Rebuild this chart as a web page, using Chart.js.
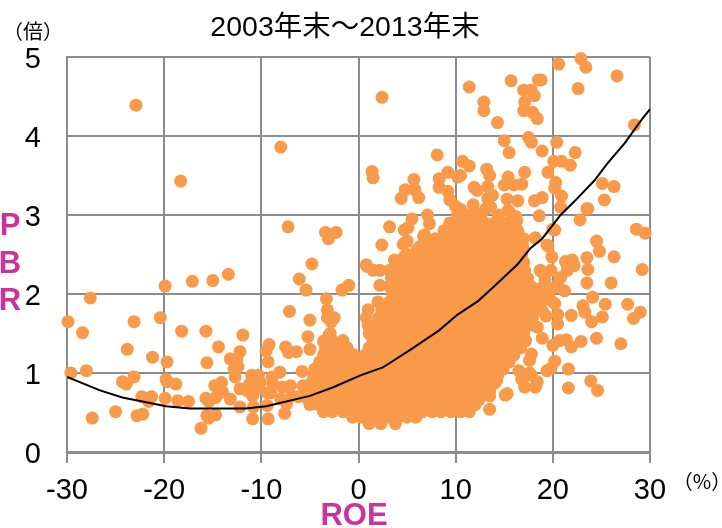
<!DOCTYPE html>
<html lang="ja">
<head>
  <meta charset="UTF-8">
  <title>ROE PBR</title>
  <script src="https://cdn.jsdelivr.net/npm/chart.js"></script>
  <style>
    html, body { margin: 0; padding: 0; background: #fff; }
    canvas { display: block; }
  </style>
</head>
<body>
  <canvas id="chart" width="722" height="528"></canvas>

  <script>
    const titleText = '2003年末～2013年末';
    const xTicks = [-30, -20, -10, 0, 10, 20, 30];
    const yTicks = [0, 1, 2, 3, 4, 5];

    // fitted curve
    const curveRoe = [-30, -26.6, -24.3, -19.8, -17.4, -11.6, -9.5, -5, -2.6, 0.2, 2.5, 5.4, 8.3, 10.2, 12.3, 14, 16.4, 17.7, 18.9, 20.8, 22.2, 24.3, 25.6, 27.4, 29.1, 30];
    const curvePbr = [0.95, 0.78, 0.69, 0.58, 0.55, 0.55, 0.58, 0.71, 0.82, 0.97, 1.07, 1.30, 1.54, 1.74, 1.91, 2.10, 2.38, 2.58, 2.70, 3.0, 3.17, 3.44, 3.65, 3.91, 4.2, 4.34];

    // loose points on the left side [ROE, PBR]
    const leftPoints = [
      [-22.9,4.39],[-8,3.86],[-18.3,3.43],[-7.25,2.85],[-3.4,2.78],[-2.3,2.78],[-3.1,2.7],[-4.8,2.38],
      [-29.9,1.65],[-28.4,1.51],[-27.6,1.95],[-29.6,1.0],[-28,1.03],[-27.4,0.43],[-25,0.51],[-23.1,1.65],
      [-23.8,1.3],[-24.3,0.89],[-23.9,0.86],[-23.1,0.95],[-22.8,0.46],[-22.2,0.48],[-22.3,0.7],[-21.3,0.7],
      [-21.6,0.64],[-21.2,1.2],[-20.4,1.7],[-19.9,2.1],[-17.1,2.16],[-15,2.17],[-13.4,2.25],[-19.7,1.14],
      [-19.8,0.92],[-19.7,0.89],[-18.8,0.86],[-19.9,0.68],[-18.6,0.65],[-17.5,0.64],[-18.2,1.53],[-15.7,1.53],
      [-14.4,1.33],[-15.6,1.13],[-11.9,1.48],[-12.2,1.27],[-13.2,1.18],[-12.5,1.18],[-12.4,1.08],[-12.8,1.05],
      [-12.7,0.95],[-15.7,0.68],[-15.4,0.64],[-14.8,0.84],[-14.1,0.88],[-14,0.76],[-14.7,0.69],[-13.2,0.67],
      [-15.6,0.46],[-15.4,0.43],[-14.7,0.47],[-16.2,0.3],[-12.2,0.8],[-12.2,0.57],[-10.9,0.42],[-9.3,0.42],
      [-9.2,1.36],[-9.5,1.28],[-9.3,1.14],[-7.5,1.33],[-7.2,1.26],[-6.4,1.27],[-7.1,1.78],[-6.1,2.19],
      [-5.4,2.05],[-3.3,1.94],[-1.7,2.05],[-1,2.11],[-3.2,1.8],[-3.2,1.7],[-2.5,1.7],[-2.8,1.65],
      [-5,1.67],[-5.2,1.46],[-5,1.3],[-3,1.49],[-3.6,1.4],[-5.8,1.02],[-7.6,0.49],
      [-11,0.97],[-10.3,0.97],[-11.2,0.86],[-10.1,0.88],[-11.5,0.78],[-10.9,0.71],[-9.4,0.75],[-8.9,0.95],
      [-8.1,1.01],[-8.8,0.86],[-9,0.75],[-10.5,0.79],[-7.8,0.82],[-7,0.84],[-6.9,0.71],[-7.4,0.61],
      [-9.4,0.59],[-10.8,0.57],[-8,0.67],[-5.7,0.84],[-6.2,0.7]
    ];

    // loose points on the right side and above the mass [ROE, PBR]
    const rightPoints = [
      [2.42,4.49],[20.6,4.91],[22.9,4.98],[23.4,4.87],[26.6,4.76],[22.6,4.6],[11.4,4.62],[15.7,4.7],
      [18.8,4.71],[18.5,4.71],[17,4.58],[17.75,4.58],[18.1,4.51],[17.1,4.43],[17,4.32],[17.9,4.3],
      [18.4,4.22],[12.9,4.43],[12.9,4.32],[14.3,4.17],[28.4,4.14],[15,3.94],[17.5,3.98],[17.8,3.92],
      [15.5,3.79],[18.9,3.81],[20.4,3.92],[22.3,3.79],[20.1,3.68],[20.9,3.68],[21.8,3.63],[19.5,3.54],
      [8.1,3.76],[1.4,3.55],[1.5,3.47],[10.7,3.68],[11.4,3.62],[13.2,3.58],[13.5,3.5],[17.1,3.54],
      [15.4,3.48],[9.2,3.54],[8.3,3.46],[8.3,3.35],[10.2,3.48],[10.5,3.5],[5.7,3.45],[4.8,3.32],
      [4.4,3.21],[5.8,3.32],[6.2,3.22],[9.2,3.3],[9.4,3.19],[10,3.11],[10.5,3.07],[11.9,3.35],
      [12.2,3.31],[13.3,3.36],[13.8,3.25],[13.3,3.21],[13.6,3.1],[13.1,3.08],[11.8,3.13],[11.9,3.04],
      [15,3.38],[16,3.38],[16.8,3.39],[15.3,3.2],[16.4,3.18],[18.1,3.18],[18.9,3.22],[20.3,3.41],
      [20.2,3.34],[20.9,3.24],[20.8,3.1],[18.6,2.99],[15.4,3.06],[16.2,2.98],[16.3,2.93],[25.1,3.4],
      [26.3,3.36],[25.3,3.19],[23.6,3.08],[23.5,3.08],[22.8,2.94],[20,2.82],[28.6,2.82],[29.5,2.77],
      [24.5,2.67],[24.8,2.54],[26.3,2.47],[23.5,2.46],[22,2.43],[21.3,2.41],[19.5,2.61],[19.9,2.47],
      [18.2,2.71],[3.2,2.85],[5.5,2.95],[4.7,2.81],[5.1,2.84],[2.4,2.62],[4.6,2.63],[5,2.67],
      [6.7,2.73],[7.1,3.0],[7.3,2.89],[6.3,2.6],[0.8,2.37],[3.7,2.43],[4.7,2.47],[6,2.56],[6.8,2.75],
      [0.85,2.35],[2.2,2.11],[2,1.9],[29.2,2.31],[26,2.14],[23.5,2.14],[24.1,1.96],[23.1,1.85],[25.4,1.87],
      [27.7,1.87],[29,1.77],[28.3,1.69],[25.1,1.71],[24,1.65],[23.3,1.77],[21.9,1.73],[20.5,1.74],
      [20.5,1.62],[24.5,1.44],[27,1.37],[22.9,1.4],[21.9,1.33],[21.4,1.42],[20.7,1.41],[20,1.35],
      [20.2,1.15],[19.8,1.06],[19.4,1.03],[21.6,1.05],[21.6,0.81],[23.9,0.9],[24.6,0.78],[18.9,1.44],
      [17.8,1.24],[17.6,1.16],[16.5,1.03],[17.6,1.0],[17.8,0.97],[16.8,0.92],[18.4,0.89],[17.1,0.82],
      [18.2,0.82],[15.3,0.74],[15.1,0.72],[14.2,0.9],[13.5,0.71],[12.4,0.66],[13.5,0.54],
      [18.8,2.02],[19.8,1.92],[21.2,2.04],[20.5,2.12],[18.9,2.28],[19.8,2.3],[22.2,2.36],[23.6,2.31],
      [20.8,2.21],[21.5,2.3],[18.3,1.96],[18.9,1.79],[18.4,1.58],[19.3,1.72],[18.7,2.3],[19.2,2.18],
      [18.7,2.07],[19.4,1.97],[18.9,1.92],[20,2.07],[20.2,1.88],[19.4,2.62],[18.2,2.71],[20.2,2.81]
    ];

    // dense mass, read band by band: PBR of the band and the ROE values in it
    const densePbr = [0.36, 0.44, 0.51, 0.6, 0.69, 0.78, 0.87, 0.96, 1.05, 1.14, 1.23, 1.32, 1.41, 1.5, 1.6, 1.7, 1.8, 1.9, 2.0, 2.1, 2.2, 2.3, 2.4, 2.5, 2.6, 2.7, 2.8, 2.9, 3.0];
    const denseRoe = [
      [1.1,2.3,3.8],
      [-0.6,0.3,1.2,2.1,3.1,4.1,5.0,5.9],
      [-3.6,-2.7,-1.6,-0.5,0.5,1.5,2.6,3.7,4.7,5.8,6.6,7.6,8.5,9.5,10.5,11.4],
      [-5.0,-4.1,-3.1,-2.2,-1.1,-0.1,1.0,2.1,3.1,4.2,5.2,6.2,7.1,8.1,9.1,10.0,11.1,12.0],
      [-5.4,-4.6,-3.6,-2.6,-1.6,-0.6,0.5,1.5,2.6,3.6,4.7,5.7,6.7,7.6,8.6,9.6,10.6,11.5,12.2],
      [-5.2,-4.2,-3.2,-2.1,-1.1,0,1.0,2.1,3.1,4.2,5.1,6.2,7.2,8.1,9.1,10.1,11.1,12.0,12.9,13.5],
      [-4.9,-3.7,-2.6,-1.6,-0.5,0.5,1.6,2.6,3.7,4.7,5.7,6.6,7.7,8.6,9.6,10.6,11.6,12.5,13.4,14.0],
      [-4.6,-3.3,-2.1,-1.0,0,1.0,2.1,3.2,4.1,5.2,6.2,7.1,8.2,9.1,10.1,11.1,12.0,12.9,13.8,14.3],
      [-4.5,-3.7,-2.6,-1.6,-0.5,0.6,1.6,2.6,3.7,4.6,5.7,6.7,7.6,8.6,9.6,10.6,11.5,12.5,13.5,14.5,14.9],
      [-4.0,-3.0,-2.0,-1.1,0,1.1,2.1,3.1,4.2,5.1,6.2,7.2,8.1,9.1,10.1,11.0,12.0,13.0,14.0,15.0,15.5],
      [-3.6,-2.6,-1.5,-0.5,0.7,1.6,2.6,3.6,4.7,5.7,6.6,7.7,8.6,9.6,10.5,11.6,12.5,13.5,14.5,15.4,16.0],
      [-3.4,-2.2,-1.2,1.1,2.1,3.1,4.2,5.1,6.1,7.2,8.1,9.1,10.1,11.1,12.0,13.0,14.0,15.0,15.9,16.7],
      [-3.5,-2.7,-1.6,1.5,2.6,3.6,4.6,5.6,6.7,7.6,8.6,9.6,10.6,11.5,12.5,13.5,14.5,15.4,16.4,17.2],
      [-2.9,1.1,2.1,3.1,4.1,5.2,6.2,7.1,8.1,9.1,10.1,11.1,12.0,13.0,14.0,15.0,16.0,17.0],
      [1.0,1.6,2.6,3.6,4.6,5.6,6.6,7.7,8.6,9.6,10.6,11.6,12.5,13.5,14.5,15.5,16.5,17.4],
      [0.8,2.1,3.1,4.1,5.1,6.1,7.2,8.1,9.1,10.1,11.1,12.1,13.0,14.0,15.0,16.0,17.0,17.9],
      [1.0,2.4,3.6,4.6,5.6,6.6,7.6,8.6,9.6,10.6,11.5,12.5,13.5,14.5,15.5,16.5,17.4,18.0],
      [3.2,4.1,5.1,6.1,7.2,8.1,9.1,10.1,11.1,12.0,13.0,14.0,15.0,16.0,17.0,17.9],
      [3.5,4.6,5.6,6.6,7.6,8.6,9.6,10.6,11.5,12.5,13.5,14.5,15.5,16.5,17.4,17.9],
      [3.2,4.1,5.1,6.1,7.1,8.1,9.1,10.1,11.1,12.0,13.0,14.0,15.0,16.0,17.0,17.7],
      [3.4,4.6,5.6,6.6,7.6,8.6,9.6,10.6,11.5,12.5,13.5,14.5,15.5,16.5,17.4],
      [1.5,2.2,3.2,4.1,5.1,6.1,7.1,8.1,9.1,10.1,11.1,12.0,13.0,14.0,15.0,16.0,17.1],
      [3.8,4.9,5.7,6.6,7.6,8.6,9.6,10.6,11.5,12.5,13.5,14.5,15.5,16.5,17.0],
      [5.0,6.2,7.1,8.1,9.1,10.1,11.1,12.0,13.0,14.0,15.0,16.0,16.8],
      [7.0,7.7,8.6,9.6,10.6,11.5,12.5,13.5,14.5,15.5,16.4,16.9],
      [7.9,9.0,10.0,11.0,12.0,13.0,14.0,15.0,16.0,17.0],
      [8.8,9.7,10.6,11.5,12.5,13.5,14.5,15.5,16.4],
      [9.4,10.2,11.0,12.0,13.0,14.0,15.0,15.9],
      [10.2,11.2,12.6,14.4,15.8]
    ];

    const scatterData = [...leftPoints, ...rightPoints].map(p => ({ x: p[0], y: p[1] }));
    denseRoe.forEach((band, i) => {
      band.forEach(x => scatterData.push({ x: x, y: densePbr[i] }));
    });

    const sansFont = '"Liberation Sans", "Noto Sans CJK JP", sans-serif';
    const magenta = '#cc3399';
    const gridColor = '#8c8c8c';

    // title and the labels that sit outside the axes
    const sideLabels = {
      id: 'sideLabels',
      afterDraw(chart) {
        const c = chart.ctx;
        c.save();
        c.textAlign = 'center';
        c.textBaseline = 'middle';
        c.fillStyle = '#000';
        c.font = '28.5px ' + sansFont;
        c.fillText(titleText, 345, 28);
        c.font = '20px "Noto Sans CJK JP"';
        c.fillText('（倍）', 33, 31);
        c.fillText('（%）', 702, 481);
        c.fillStyle = magenta;
        c.font = 'bold 31px "Liberation Sans"';
        c.fillText('P', 10, 226);
        c.fillText('B', 10, 264);
        c.fillText('R', 10, 301);
        c.fillText('ROE', 354, 516);
        c.restore();
      }
    };

    new Chart(document.getElementById('chart').getContext('2d'), {
      type: 'scatter',
      data: {
        datasets: [
          {
            type: 'line',
            data: curveRoe.map((x, i) => ({ x: x, y: curvePbr[i] })),
            borderColor: '#000',
            borderWidth: 2,
            pointRadius: 0,
            tension: 0,
            fill: false,
            order: 1
          },
          {
            data: scatterData,
            backgroundColor: '#f99a4a',
            borderWidth: 0,
            pointRadius: 6.5,
            clip: false,
            order: 2
          }
        ]
      },
      options: {
        responsive: false,
        animation: false,
        layout: { padding: { top: 57, right: 72, bottom: 0, left: 0 } },
        plugins: {
          legend: { display: false },
          tooltip: { enabled: false }
        },
        scales: {
          x: {
            type: 'linear',
            min: -30,
            max: 30,
            afterBuildTicks: scale => { scale.ticks = xTicks.map(v => ({ value: v })); },
            afterFit: scale => { scale.height = 76; },
            ticks: {
              color: '#000',
              font: { family: sansFont, size: 29 },
              padding: 11,
              maxRotation: 0,
              autoSkip: false
            },
            grid: { color: gridColor, lineWidth: 2, tickLength: 11 },
            border: { color: gridColor, width: 3 }
          },
          y: {
            min: 0,
            max: 5,
            afterBuildTicks: scale => { scale.ticks = yTicks.map(v => ({ value: v })); },
            afterFit: scale => { scale.width = 67; },
            ticks: {
              color: '#000',
              font: { family: sansFont, size: 29 },
              padding: 26,
              labelOffset: 3
            },
            grid: { color: gridColor, lineWidth: 2, tickLength: 0 },
            border: { color: gridColor, width: 2 }
          }
        }
      },
      plugins: [sideLabels]
    });
  </script>
</body>
</html>
